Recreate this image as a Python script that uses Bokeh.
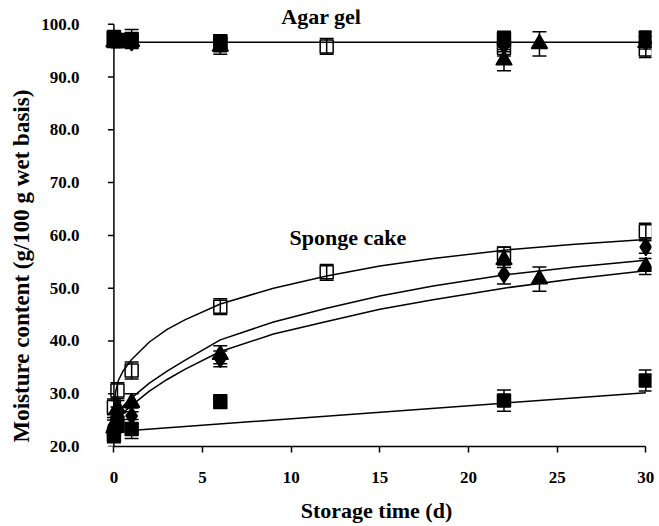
import math
from bokeh.plotting import figure
from bokeh.models import (Range1d, Whisker, ColumnDataSource, Label, FixedTicker,
                          TeeHead, PrintfTickFormatter, Title)
from bokeh.embed import file_html
from bokeh.resources import INLINE

# ---------------- data ----------------
x_ticks = [0, 5, 10, 15, 20, 25, 30]
y_ticks = [20, 30, 40, 50, 60, 70, 80, 90, 100]

# Agar gel
agar_os_t = [0, 0.2, 1, 6, 12, 22, 30]
agar_os_y = [97.3, 96.8, 97.2, 96.3, 95.8, 95.5, 95.2]
agar_os_e = [1.0, 1.0, 1.8, 1.5, 1.5, 1.5, 1.5]
agar_dm_t = [0, 1, 6, 22, 30]
agar_dm_y = [97.0, 96.6, 96.3, 96.0, 96.7]
agar_dm_e = [1.0, 1.0, 1.2, 1.2, 1.0]
agar_tr_t = [0, 1, 6, 22, 24, 30]
agar_tr_y = [96.6, 96.7, 95.8, 93.2, 96.3, 96.5]
agar_tr_e = [1.0, 1.0, 1.5, 2.0, 2.3, 1.2]
agar_fs_t = [0, 0.2, 1, 6, 22, 30]
agar_fs_y = [97.6, 97.0, 97.0, 96.8, 97.2, 97.5]
agar_fs_e = [1.0, 1.0, 1.0, 1.2, 1.5, 1.0]
agar_fit_t = [0, 30]
agar_fit_y = [96.6, 96.6]

# Sponge cake
cake_os_t = [0, 0.2, 1, 6, 12, 22, 30]
cake_os_y = [27.5, 30.6, 34.4, 46.5, 53.0, 56.5, 60.8]
cake_os_e = [1.5, 1.5, 1.6, 1.5, 1.5, 1.3, 1.5]
cake_dm_t = [0, 0.2, 1, 6, 22, 30]
cake_dm_y = [24.0, 26.0, 25.8, 36.6, 52.6, 57.8]
cake_dm_e = [1.5, 1.5, 1.5, 1.5, 1.8, 1.2]
cake_tr_t = [0, 0.2, 1, 6, 22, 24, 30]
cake_tr_y = [23.5, 27.2, 28.3, 37.4, 55.4, 51.7, 54.1]
cake_tr_e = [1.5, 1.5, 1.7, 1.7, 1.5, 2.3, 1.5]
cake_fs_t = [0, 0.2, 1, 6, 22, 30]
cake_fs_y = [22.2, 24.2, 23.3, 28.5, 28.7, 32.5]
cake_fs_e = [1.5, 1.5, 1.8, 1.3, 2.0, 2.0]

fit_t = [0, 0.1, 0.25, 0.5, 1, 2, 3, 4, 6, 9, 12, 15, 18, 22, 26, 30]
fit_os = [28.0, 30.5, 32.5, 34.2, 36.5, 39.8, 42.2, 44.0, 47.0, 50.0, 52.3, 54.2, 55.6, 57.2, 58.3, 59.2]
fit_dm = [25.0, 25.8, 26.6, 27.6, 29.2, 32.0, 34.3, 36.3, 40.2, 43.6, 46.2, 48.5, 50.4, 52.5, 54.0, 55.3]
fit_tr = [24.0, 24.6, 25.3, 26.3, 27.8, 30.5, 32.7, 34.6, 38.0, 41.3, 43.7, 46.0, 47.8, 50.0, 51.8, 53.3]
fit_fs_t = [0, 30]
fit_fs_y = [22.8, 30.2]

FONT = "Liberation Serif"

p = figure(frame_width=550, frame_height=437, output_backend="svg", toolbar_location=None,
           x_range=Range1d(-0.7, 30.32), y_range=Range1d(20, 102.8),
           min_border_left=101, min_border_right=4, min_border_top=9, min_border_bottom=76)
p.outline_line_color = None
p.xgrid.visible = False
p.ygrid.visible = False

for ax in (p.xaxis, p.yaxis):
    ax.axis_line_width = 1.5
    ax.major_tick_line_width = 1.5
    ax.major_tick_in = 0
    ax.major_tick_out = 6
    ax.minor_tick_line_color = None
    ax.major_label_text_font = FONT
    ax.major_label_text_font_style = "bold"
    ax.major_label_text_font_size = "17px"
    ax.major_label_text_color = "black"
    ax.axis_label_text_font = FONT
    ax.axis_label_text_font_style = "bold"
    ax.axis_label_text_font_size = "22px"
    ax.axis_label_text_color = "black"

p.xaxis.ticker = FixedTicker(ticks=x_ticks)
p.yaxis.ticker = FixedTicker(ticks=y_ticks)
p.yaxis.formatter = PrintfTickFormatter(format="%.1f")
p.xaxis.bounds = (0, 30)
p.xaxis.axis_label = "Storage time (d)"
p.xaxis.major_label_standoff = 19
p.xaxis.axis_label_standoff = 12
# y axis drawn at x = 0 (inside the frame); the frame-edge axis only carries labels
p.yaxis.axis_line_color = None
p.yaxis.major_tick_line_color = None
p.yaxis.major_tick_out = 0
p.yaxis.major_label_standoff = 22

p.add_layout(Title(text="Moisture content (g/100 g wet basis)", align="left", offset=4,
                   text_font=FONT, text_font_style="bold", text_font_size="23px",
                   text_color="black", standoff=10), "left")

p.segment(x0=[0], y0=[y_ticks[0]], x1=[0], y1=[y_ticks[-1]], line_color="black", line_width=1.5)
p.ray(x=[0] * len(y_ticks), y=y_ticks, length=6, length_units="screen", angle=math.pi,
      line_color="black", line_width=1.5)

# fit lines
p.line(agar_fit_t, agar_fit_y, line_color="black", line_width=1.5)
p.line(fit_t, fit_os, line_color="black", line_width=1.5)
p.line(fit_t, fit_dm, line_color="black", line_width=1.5)
p.line(fit_t, fit_tr, line_color="black", line_width=1.5)
p.line(fit_fs_t, fit_fs_y, line_color="black", line_width=1.5)


def series(t, y, e, marker, size, filled):
    src = ColumnDataSource(dict(t=t, y=y,
                                lo=[a - b for a, b in zip(y, e)],
                                up=[a + b for a, b in zip(y, e)]))
    w = Whisker(base="t", lower="lo", upper="up", source=src,
                line_color="black", line_width=1.5, level="glyph",
                upper_head=TeeHead(size=14, line_width=1.5, line_color="black"),
                lower_head=TeeHead(size=14, line_width=1.5, line_color="black"))
    p.add_layout(w)
    p.scatter("t", "y", source=src, marker=marker, size=size,
              fill_color="black" if filled else None, line_color="black", line_width=1.5)


for grp in [
    (agar_fs_t, agar_fs_y, agar_fs_e, "square", 13, True),
    (agar_tr_t, agar_tr_y, agar_tr_e, "triangle", 16, True),
    (agar_dm_t, agar_dm_y, agar_dm_e, "diamond", 17, True),
    (agar_os_t, agar_os_y, agar_os_e, "square", 13, False),
    (cake_fs_t, cake_fs_y, cake_fs_e, "square", 13, True),
    (cake_tr_t, cake_tr_y, cake_tr_e, "triangle", 16, True),
    (cake_dm_t, cake_dm_y, cake_dm_e, "diamond", 17, True),
    (cake_os_t, cake_os_y, cake_os_e, "square", 13, False),
]:
    series(*grp)

p.add_layout(Label(x=11.7, y=101.5, text="Agar gel", text_align="center", text_baseline="middle",
                   text_font=FONT, text_font_style="bold", text_font_size="22px", text_color="black"))
p.add_layout(Label(x=13.2, y=59.6, text="Sponge cake", text_align="center", text_baseline="middle",
                   text_font=FONT, text_font_style="bold", text_font_size="22px", text_color="black"))

open("out.html", "w").write(file_html(p, INLINE))
